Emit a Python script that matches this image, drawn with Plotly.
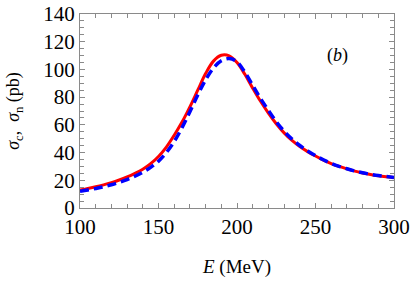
import plotly.graph_objects as go

energy = [100, 105, 110, 115, 120, 125, 130, 135, 140, 145, 150, 155, 160, 165, 170, 175,
          180, 185, 190, 195, 200, 205, 210, 215, 220, 225, 230, 235, 240, 245, 250,
          255, 260, 265, 270, 275, 280, 285, 290, 295, 300]

sigma_c = [13.0, 14.1, 15.3, 16.7, 18.3, 20.2, 22.4, 25.0, 28.0, 32.0, 37.2, 44.0, 52.5, 62.0,
           73.0, 85.0, 97.0, 106.0, 110.2, 109.8, 105.0, 96.5, 86.5, 77.0, 68.5, 60.8,
           54.2, 48.8, 44.4, 40.7, 37.5, 34.6, 32.1, 30.0, 28.2, 26.6, 25.3, 24.2, 23.3, 22.6, 22.0]

sigma_n = [12.0, 13.0, 14.1, 15.3, 16.8, 18.5, 20.5, 22.9, 25.8, 29.3, 33.8, 40.0, 48.0, 58.0,
           69.5, 81.5, 92.5, 101.0, 106.2, 107.8, 105.5, 98.0, 88.5, 79.0, 70.5, 62.3,
           55.4, 49.8, 45.1, 41.2, 37.8, 34.8, 32.2, 30.1, 28.3, 26.7, 25.4, 24.3, 23.4, 22.7, 22.0]

x_ticks = [100, 150, 200, 250, 300]
y_ticks = [0, 20, 40, 60, 80, 100, 120, 140]

FONT = "Liberation Serif"
FRAME = "#8a8a8a"

fig = go.Figure()
fig.add_trace(go.Scatter(x=energy, y=sigma_c, mode="lines", line=dict(color="#ff0000", width=3, shape="spline"),
                         showlegend=False, hoverinfo="skip"))
fig.add_trace(go.Scatter(x=energy, y=sigma_n, mode="lines",
                         line=dict(color="#0000ff", width=3.5, dash="9px,5px", shape="spline"),
                         showlegend=False, hoverinfo="skip"))

axis_common = dict(showgrid=False, zeroline=False, showline=True, linecolor=FRAME, linewidth=1,
                   mirror="ticks", ticks="inside", ticklen=5, tickcolor=FRAME, tickwidth=1,
                   automargin=False,
                   tickfont=dict(family=FONT, size=21, color="#000"))

fig.update_xaxes(range=[100, 300], tickvals=x_ticks, ticktext=[str(v) for v in x_ticks],
                 minor=dict(dtick=10, ticks="inside", ticklen=4, tickcolor=FRAME, showgrid=False),
                 title=dict(text="<i>E</i> (MeV)", font=dict(family=FONT, size=19, color="#000"), standoff=21),
                 **axis_common)
fig.update_yaxes(range=[0, 140], tickvals=y_ticks, ticktext=[str(v) for v in y_ticks],
                 minor=dict(dtick=5, ticks="inside", ticklen=4, tickcolor=FRAME, showgrid=False),
                 title=dict(text="<i>σ</i><sub>c</sub>,  <i>σ</i><sub>n</sub> (pb)",
                            font=dict(family=FONT, size=18, color="#000"), standoff=18),
                 **axis_common)

fig.add_annotation(x=0.82, y=0.785, xref="paper", yref="paper", text="(<i>b</i>)", showarrow=False,
                   xanchor="center", yanchor="middle",
                   font=dict(family=FONT, size=18, color="#000"))

fig.update_layout(width=413, height=284, margin=dict(l=80, r=19, t=14, b=76),
                  paper_bgcolor="white", plot_bgcolor="white")

# remove the default page margin so the 413x284 figure fills the window exactly
fig.write_html("out.html", config={"displayModeBar": False},
               post_script="document.body.style.margin='0';document.body.style.overflow='hidden';")
